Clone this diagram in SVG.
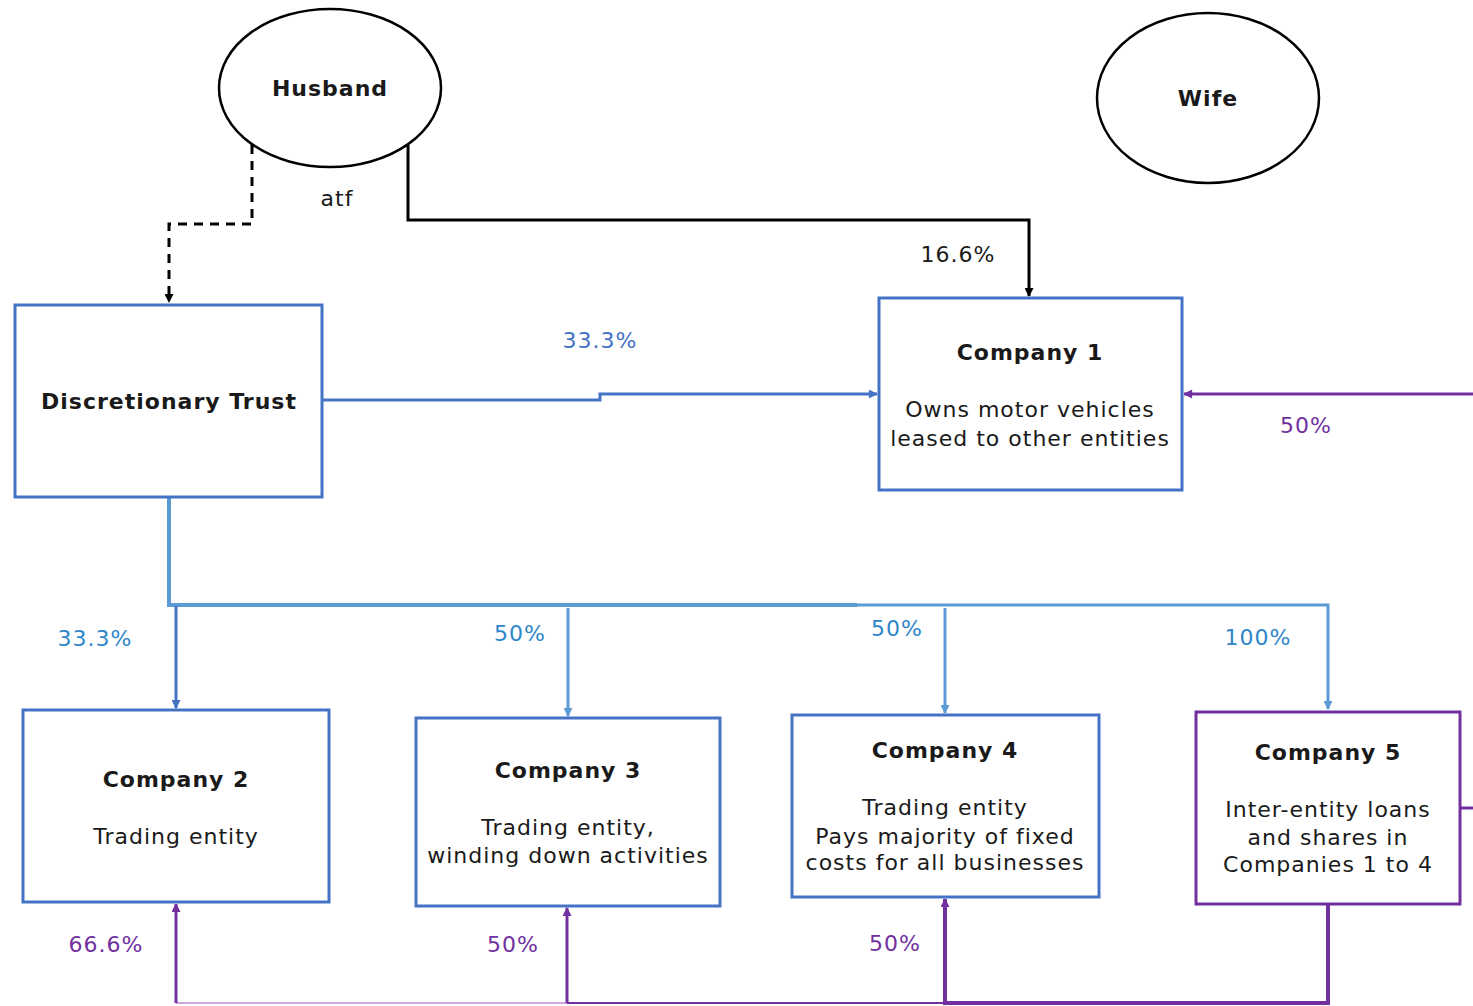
<svg xmlns="http://www.w3.org/2000/svg" width="1473" height="1006" viewBox="0 0 1473 1006">
  <style>
    text { font-family: "DejaVu Sans", Verdana, sans-serif; font-size: 22px; letter-spacing: 1px; text-anchor: middle; dominant-baseline: central; fill: #1a1a1a; }
    .title { font-weight: bold; }
    .pct-blue { fill: #4472C4; }
    .pct-sky { fill: #2E86C9; }
    .pct-purple { fill: #7030A0; }
    .person { fill: #fff; stroke: #000; stroke-width: 2.5; }
    .box { fill: #fff; stroke: #4472C4; stroke-width: 3; }
    .box-purple { fill: #fff; stroke: #7030A0; stroke-width: 3; }
    .c { fill: none; }
  </style>
  <defs>
    <marker id="ah-black" viewBox="0 0 10 10" refX="9" refY="5" markerUnits="userSpaceOnUse" markerWidth="10" markerHeight="9" orient="auto"><path d="M0,0 L10,5 L0,10 z" fill="#000"/></marker>
    <marker id="ah-blue" viewBox="0 0 10 10" refX="9" refY="5" markerUnits="userSpaceOnUse" markerWidth="10" markerHeight="9" orient="auto"><path d="M0,0 L10,5 L0,10 z" fill="#4472C4"/></marker>
    <marker id="ah-sky" viewBox="0 0 10 10" refX="9" refY="5" markerUnits="userSpaceOnUse" markerWidth="10" markerHeight="9" orient="auto"><path d="M0,0 L10,5 L0,10 z" fill="#5B9BD5"/></marker>
    <marker id="ah-purple" viewBox="0 0 10 10" refX="9" refY="5" markerUnits="userSpaceOnUse" markerWidth="10" markerHeight="9" orient="auto"><path d="M0,0 L10,5 L0,10 z" fill="#7030A0"/></marker>
  </defs>

  <g id="connectors">
    <!-- Husband as trustee -> trust (dashed) -->
    <path class="c" d="M252,145 V224 H169 V302" stroke="#000" stroke-width="3" stroke-dasharray="9,7" marker-end="url(#ah-black)"/>
    <!-- Husband -> Company 1 -->
    <path class="c" d="M408,145 V220 H1029 V296" stroke="#000" stroke-width="3" marker-end="url(#ah-black)"/>
    <!-- Trust -> Company 1 -->
    <path class="c" d="M322,400 H600 V394 H877" stroke="#4472C4" stroke-width="3" marker-end="url(#ah-blue)"/>
    <!-- Company 5 -> Company 1 (enters from right) -->
    <path class="c" d="M1473,394 H1184" stroke="#7030A0" stroke-width="3" marker-end="url(#ah-purple)"/>
    <!-- Trust -> trunk line -->
    <path class="c" d="M169,497 V605 H857" stroke="#5B9BD5" stroke-width="4"/>
    <path class="c" d="M857,605 H1328 V709" stroke="#5B9BD5" stroke-width="3" marker-end="url(#ah-sky)"/>
    <!-- Trunk -> Company 2, 3, 4 -->
    <path class="c" d="M176,606 V708" stroke="#4472C4" stroke-width="3" marker-end="url(#ah-blue)"/>
    <path class="c" d="M568,608 V716" stroke="#5B9BD5" stroke-width="3" marker-end="url(#ah-sky)"/>
    <path class="c" d="M945,608 V713" stroke="#5B9BD5" stroke-width="3" marker-end="url(#ah-sky)"/>
    <!-- Company 5 stub to the right -->
    <path class="c" d="M1460,808 H1473" stroke="#7030A0" stroke-width="3"/>
    <!-- Company 5 -> Companies 2, 3, 4 (bottom loop) -->
    <path class="c" d="M176,1003 H567" stroke="#C9A8DF" stroke-width="2"/>
    <path class="c" d="M567,1003 H945" stroke="#7030A0" stroke-width="2"/>
    <path class="c" d="M1328,905 V1003 H945 V899" stroke="#7030A0" stroke-width="4" marker-end="url(#ah-purple)"/>
    <path class="c" d="M176,1003 V904" stroke="#7030A0" stroke-width="3" marker-end="url(#ah-purple)"/>
    <path class="c" d="M567,1003 V908" stroke="#7030A0" stroke-width="3" marker-end="url(#ah-purple)"/>
  </g>

  <g id="labels">
    <text x="337" y="198">atf</text>
    <text x="958" y="254">16.6%</text>
    <text class="pct-blue" x="600" y="340">33.3%</text>
    <text class="pct-purple" x="1306" y="425">50%</text>
    <text class="pct-sky" x="95" y="638">33.3%</text>
    <text class="pct-sky" x="520" y="633">50%</text>
    <text class="pct-sky" x="897" y="628">50%</text>
    <text class="pct-sky" x="1258" y="637">100%</text>
    <text class="pct-purple" x="106" y="944">66.6%</text>
    <text class="pct-purple" x="513" y="944">50%</text>
    <text class="pct-purple" x="895" y="943">50%</text>
  </g>

  <g id="husband">
    <ellipse class="person" cx="330" cy="88" rx="111" ry="79"/>
    <text class="title" x="330" y="88">Husband</text>
  </g>
  <g id="wife">
    <ellipse class="person" cx="1208" cy="98" rx="111" ry="85"/>
    <text class="title" x="1208" y="98">Wife</text>
  </g>
  <g id="trust">
    <rect class="box" x="15" y="305" width="307" height="192"/>
    <text class="title" x="169" y="401">Discretionary Trust</text>
  </g>
  <g id="company1">
    <rect class="box" x="879" y="298" width="303" height="192"/>
    <text class="title" x="1030" y="352">Company 1</text>
    <text x="1030" y="409">Owns motor vehicles</text>
    <text x="1030" y="438">leased to other entities</text>
  </g>
  <g id="company2">
    <rect class="box" x="23" y="710" width="306" height="192"/>
    <text class="title" x="176" y="779">Company 2</text>
    <text x="176" y="836">Trading entity</text>
  </g>
  <g id="company3">
    <rect class="box" x="416" y="718" width="304" height="188"/>
    <text class="title" x="568" y="770">Company 3</text>
    <text x="568" y="827">Trading entity,</text>
    <text x="568" y="855">winding down activities</text>
  </g>
  <g id="company4">
    <rect class="box" x="792" y="715" width="307" height="182"/>
    <text class="title" x="945" y="750">Company 4</text>
    <text x="945" y="807">Trading entity</text>
    <text x="945" y="836">Pays majority of fixed</text>
    <text x="945" y="862">costs for all businesses</text>
  </g>
  <g id="company5">
    <rect class="box-purple" x="1196" y="712" width="264" height="192"/>
    <text class="title" x="1328" y="752">Company 5</text>
    <text x="1328" y="809">Inter-entity loans</text>
    <text x="1328" y="837">and shares in</text>
    <text x="1328" y="864">Companies 1 to 4</text>
  </g>
</svg>
